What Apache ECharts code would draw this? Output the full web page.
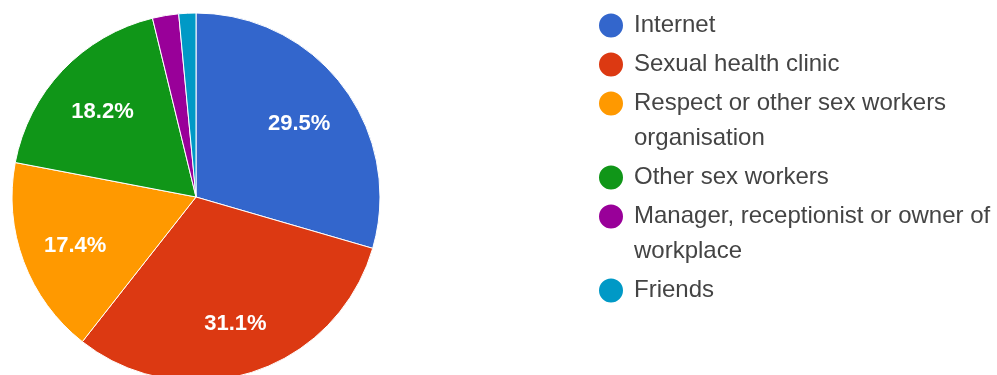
<!DOCTYPE html>
<html>
<head>
<meta charset="utf-8">
<title>Sources of information</title>
<script src="https://cdn.jsdelivr.net/npm/echarts@6/dist/echarts.min.js"></script>
<style>
  html, body { margin: 0; padding: 0; background: #ffffff; }
  #chart { width: 997px; height: 375px; }
</style>
</head>
<body>
<div id="chart"></div>
<script>
// Where respondents got their information (percent of answers)
const categories = [
  'Internet',
  'Sexual health clinic',
  'Respect or other sex workers organisation',
  'Other sex workers',
  'Manager, receptionist or owner of workplace',
  'Friends'
];
const percents = [29.5, 31.1, 17.4, 18.2, 2.3, 1.5];
// Legend text, split into lines where it is long
const legendLines = [
  ['Internet'],
  ['Sexual health clinic'],
  ['Respect or other sex workers', 'organisation'],
  ['Other sex workers'],
  ['Manager, receptionist or owner of', 'workplace'],
  ['Friends']
];
const colors = ['#3366cc', '#dc3912', '#ff9900', '#109618', '#990099', '#0099c6'];

const FONT = '"Liberation Sans", Arial, sans-serif';
const LINE = 35;
const legendFont = {
  fontFamily: FONT,
  fontSize: 24,
  color: '#444444',
  lineHeight: LINE
};

const sliceData = categories.map((name, i) => ({
  name,
  value: percents[i],
  itemStyle: { color: colors[i] }
}));

// Wrapped entries: the first line stays beside the dot, the following line
// hangs below it; an invisible full-height spacer keeps the entry's box as
// tall as its last line so the next entry keeps the usual spacing.
function legendText(name) {
  const lines = legendLines[categories.indexOf(name)];
  return lines.map((line, k) =>
    '{t|' + line + '}' + (k > 0 && k === lines.length - 1 ? '{z| }' : '')
  ).join('\n');
}

const chart = echarts.init(document.getElementById('chart'), null, { renderer: 'canvas' });

chart.setOption({
  animation: false,
  backgroundColor: '#ffffff',
  legend: {
    orient: 'vertical',
    left: 597,
    top: 8,
    padding: 0,
    itemGap: 4,
    itemWidth: 26,
    itemHeight: 26,
    icon: 'circle',
    selectedMode: false,
    formatter: legendText,
    textStyle: Object.assign({
      padding: [0, 0, 0, 5],
      rich: {
        t: legendFont,
        z: { fontFamily: FONT, fontSize: LINE, lineHeight: LINE, color: 'rgba(0,0,0,0)' }
      }
    }, legendFont),
    data: categories.map((name, i) => (
      legendLines[i].length > 1
        ? { name, textStyle: { padding: [0, 0, -LINE * (legendLines[i].length - 1), 5] } }
        : { name }
    ))
  },
  series: [
    {
      name: 'slices',
      type: 'pie',
      center: [196, 197],
      radius: [0, 184],
      startAngle: 90,
      clockwise: true,
      avoidLabelOverlap: false,
      silent: true,
      itemStyle: { borderColor: '#ffffff', borderWidth: 1 },
      label: { show: false },
      labelLine: { show: false },
      data: sliceData
    },
    {
      // transparent ring that carries the percentage labels
      name: 'labels',
      type: 'pie',
      center: [196, 197],
      radius: [68, 184],
      startAngle: 90,
      clockwise: true,
      avoidLabelOverlap: false,
      silent: true,
      itemStyle: { color: 'rgba(0,0,0,0)', borderWidth: 0 },
      label: {
        show: true,
        position: 'inside',
        offset: [0, 4],
        fontFamily: FONT,
        fontSize: 22,
        fontWeight: 'bold',
        color: '#ffffff',
        formatter: p => (p.value >= 5 ? p.value.toFixed(1) + '%' : '')
      },
      labelLine: { show: false },
      data: categories.map((name, i) => ({ name, value: percents[i] }))
    }
  ]
});
</script>
</body>
</html>
